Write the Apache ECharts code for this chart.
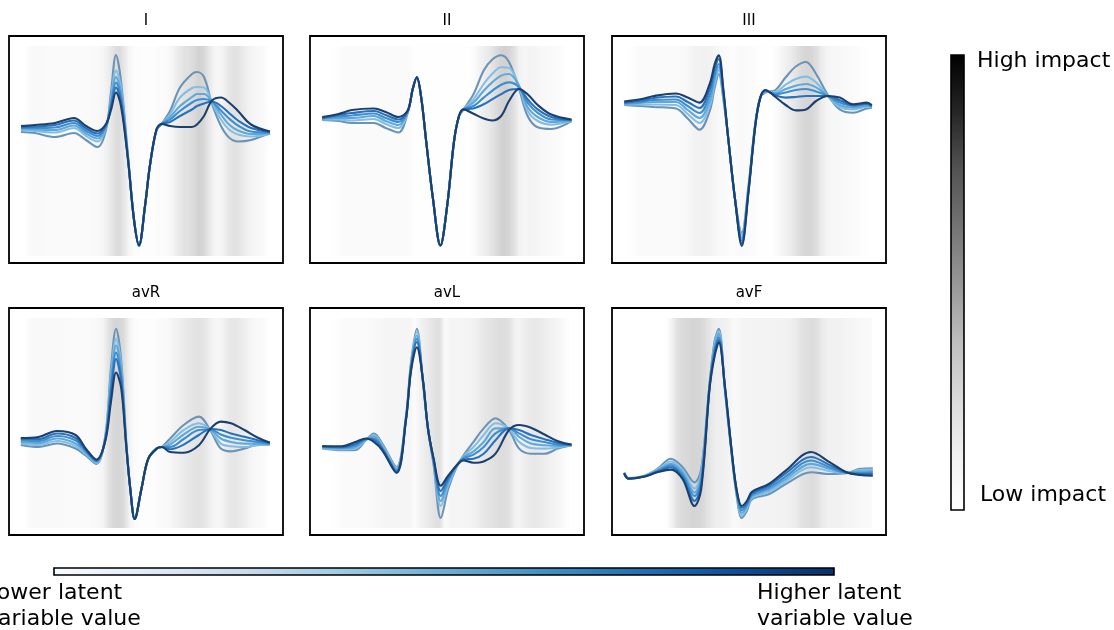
<!DOCTYPE html>
<html>
<head>
<meta charset="utf-8">
<script src="https://cdn.jsdelivr.net/npm/echarts@6/dist/echarts.min.js"></script>
<style>
  html, body { margin: 0; padding: 0; background: #fff; }
  #chart { width: 1114px; height: 630px; }
</style>
</head>
<body>
<div id="chart"></div>
<script>
// Dérivations et couleurs des six courbes (valeur latente croissante)
const leads = ['I', 'II', 'III', 'avR', 'avL', 'avF'];
const lineColors = ['#6a93b6', '#86bee3', '#5fa8da', '#3e8fd0', '#2872bd', '#1c3f6e'];

// Temps (échantillons) et amplitudes lues sur chaque dérivation
const timeI = [12, 26, 46, 65, 77, 88.5, 97, 102, 107, 112, 119, 125, 130, 136, 141, 147.5, 152.5, 161, 171, 183, 188, 195, 203, 212, 220, 229, 242, 261];
const ampI = [
    [96, 97, 101, 97, 104, 111, 94, 56, 19, 45, 120, 183, 210, 170, 129, 94, 88, 75, 51.5, 38, 36, 41, 68, 90, 101.5, 105.5, 104, 97],
    [94, 95, 96.5, 92, 100, 105.5, 92, 62, 34.5, 52, 121, 183, 210, 170, 129, 94, 88, 78.5, 61.5, 52, 51, 51.5, 66.5, 83.5, 93.5, 98.5, 100.5, 98],
    [93, 93.5, 94, 89.5, 97.5, 102.5, 91, 65, 41, 57, 122, 183.5, 210, 170, 129, 94, 88, 81, 70, 61, 58, 58, 65.5, 78.5, 88.5, 94.5, 98, 97.5],
    [92, 92, 91.5, 87, 95, 100, 90, 68, 46.5, 61, 122.5, 183.5, 209.5, 170, 129, 93.5, 88, 83.5, 75, 66.5, 64, 63, 65.5, 74.5, 82.5, 89.5, 95.5, 96.5],
    [91, 90.5, 89, 84.5, 92.5, 97.5, 89, 71, 51.5, 65.5, 123, 184, 209.5, 170, 129, 93.5, 88, 86, 80, 73.5, 70, 67.5, 65.5, 70, 77, 84.5, 92, 96],
    [90, 89, 87, 82, 90, 95, 88, 74, 56.5, 70, 124, 184, 209, 170, 129, 93.5, 88, 90, 91, 91, 88.5, 80, 64.5, 61.5, 66.5, 75, 88.5, 95.5]
];

const timeII = [12.2, 28.4, 41.9, 63.9, 75.7, 88.5, 97.7, 102.7, 106.8, 111.2, 116.2, 123, 130.4, 137.2, 144, 149, 153.4, 163.5, 173.7, 182.1, 191.2, 199, 209.1, 217.6, 227.7, 241.2, 261.5];
const ampII = [
    [84, 85, 87, 87, 92, 96.5, 77, 53.5, 41.5, 61.5, 105.5, 163, 209.5, 169.5, 105.5, 80, 73.5, 58.2, 34.5, 23.7, 19.3, 26, 53, 80, 91.3, 93, 85.2],
    [83.5, 83.5, 84.5, 83, 88, 92, 76.5, 53.5, 41.5, 61.5, 105.5, 163, 209.5, 169.5, 105.5, 80, 73.5, 63.3, 48, 38, 31.2, 31.8, 50.8, 75, 85, 88.6, 85],
    [83, 82, 82, 80, 85, 89, 76, 53, 41.3, 61.5, 105.5, 163, 209.5, 169.5, 105.5, 80, 73.5, 66.6, 54.8, 46.4, 39.6, 38, 49.7, 71, 81, 86, 84.5],
    [82.5, 80.5, 79.5, 77.5, 82, 86, 75.5, 53, 41.3, 61.5, 105.5, 163, 209.5, 169.5, 105.5, 80, 73.4, 70, 61.6, 54.8, 48.7, 46.4, 51.4, 66.6, 76.8, 83.5, 84.2],
    [82, 79, 77, 75, 79, 83.5, 75, 53, 41.3, 61.6, 105.5, 163, 209.5, 169.7, 105.5, 80, 73.4, 72.4, 68.3, 63.3, 58.2, 54, 53, 63.3, 73.4, 81, 84],
    [81, 78, 74, 72.5, 76, 81, 74.5, 53, 41.3, 61.6, 105.5, 163, 209.5, 169.7, 105.5, 80, 73.4, 77.8, 82.5, 84.5, 80, 65, 53, 58.2, 69, 78.5, 83.5]
];

const timeIII = [12.2, 28.4, 41.9, 63.9, 75.7, 87.5, 97.7, 102.7, 106.8, 111.2, 116.2, 123, 129.8, 136.5, 143.3, 148.3, 153.4, 163.5, 173.7, 183.8, 194, 204.1, 215.9, 227.7, 241.2, 254.8, 259.8];
const ampIII = [
    [69, 70, 71, 72.5, 82.5, 93.7, 75, 51.5, 38, 62, 102, 163, 196.7, 150, 87, 61.6, 56.5, 54, 41.3, 30.5, 26, 38, 59, 73.4, 76.8, 72.4, 72],
    [68.5, 68.5, 68.5, 69, 78, 87, 70, 47, 34, 60, 102, 163, 199, 151, 87.5, 61.6, 56, 55.8, 48.7, 43, 40.6, 46.4, 60, 71, 73.4, 71, 71.5],
    [68, 67, 66, 66, 74, 82, 65, 42.5, 31, 58, 102, 163, 202, 152.5, 88, 61.6, 55.5, 57.2, 53, 49.7, 48, 51.4, 60, 69, 71.7, 69.7, 71],
    [67, 66, 64, 63.5, 70, 77, 59, 38, 28, 56, 102, 163, 205, 154, 88.6, 61.6, 55, 58.2, 56.5, 54, 53, 55.5, 60, 66.6, 70, 68.3, 70.5],
    [66.5, 64.5, 62, 60.5, 66, 72, 53, 33, 23, 54, 102, 163, 207.5, 155, 89, 61.6, 54.5, 59.5, 61.6, 61, 60, 60, 60, 64.3, 69, 67.6, 70],
    [65.5, 63.3, 60, 57.5, 61.5, 66.6, 48, 28, 19.3, 52, 102, 163, 210, 156, 90, 61.6, 54, 61, 69, 74.4, 73.4, 65, 60, 61.6, 68.3, 66.6, 69]
];

const timeAvR = [11.8, 29.4, 48, 66.6, 76.7, 87.5, 96.3, 102, 107.1, 112.2, 117.2, 121.3, 125.7, 132.4, 139.2, 147.6, 152.7, 161.2, 174.7, 189.9, 201.7, 211.8, 222, 235.5, 249, 260.8];
const ampAvR = [
    [137, 139, 135.5, 140.5, 147.5, 156, 128, 59.5, 20.7, 52.8, 133, 181, 211, 181, 150.8, 140.6, 139, 130.5, 117, 108.6, 123, 140.6, 143.4, 140.6, 136.6, 136.6],
    [135.5, 137, 133, 138, 146, 155, 129, 67, 31, 58, 134, 181, 211, 181, 150.8, 140.6, 139, 134, 122, 115.3, 122, 135.6, 138.3, 139, 137.3, 136.3],
    [134, 135, 130.5, 135.5, 144.5, 154, 130, 73, 37.5, 63, 135, 181, 211, 181, 150.8, 140.6, 139, 136.5, 126.5, 118.7, 121.5, 130.5, 134, 135.6, 135.6, 136],
    [132.5, 133, 128, 132.5, 143, 153, 131, 79, 44.5, 68, 136, 181, 211, 181, 150.8, 140.6, 139, 139, 131, 122, 121.5, 126.5, 129.8, 132.2, 133.9, 135.6],
    [131, 131, 125.5, 130, 142, 152.5, 132, 85, 51, 73, 137, 181, 211, 181, 150.8, 140.6, 139, 141.3, 136.6, 127, 121, 122, 125.4, 128.8, 132.2, 135],
    [130, 129, 123, 127, 140.5, 151.5, 133, 93.5, 64.5, 80, 138, 181, 211, 181, 150.8, 140.6, 139, 144, 144.7, 137.3, 120.4, 113.6, 115.3, 122, 129.8, 134.6]
];

const timeAvL = [12.2, 31.8, 45.3, 56.1, 63.9, 72.3, 86.5, 96, 101, 106.8, 112.9, 117.9, 123.7, 130.8, 138.2, 146.6, 153.4, 163.5, 173.7, 185.5, 199, 209.1, 221, 234.5, 248, 261.5];
const ampAvL = [
    [140.5, 142.3, 142, 132, 125.5, 135.5, 159, 108, 54.5, 20.7, 74, 120, 157.5, 210, 181, 159, 147.5, 133.9, 120.4, 110.2, 122, 140.6, 145.7, 145.7, 140.6, 137.5],
    [140, 141.5, 140.5, 131.8, 127, 137, 160, 109, 56, 24, 73.5, 120, 156, 198, 177, 158.5, 148.5, 139, 127, 115.3, 121, 133.9, 140, 140.6, 139.3, 137.3],
    [139.5, 140.5, 139, 131.5, 128.5, 138.5, 161.5, 110, 58, 27.5, 73, 120, 154.5, 193, 174.5, 158, 149.5, 143.4, 134, 120.4, 120.4, 128.8, 135.6, 137.3, 138, 137.2],
    [139, 139.8, 137.5, 131.2, 130.5, 140, 162.5, 110.5, 59.5, 30.9, 72.5, 120, 153, 188, 172, 157.5, 150.5, 146.7, 139, 125.4, 120.4, 125.4, 131.2, 134, 136.6, 137],
    [138.5, 139, 136, 130.8, 132, 141, 164, 111, 61, 34, 72, 120, 152, 183, 170, 157.5, 151.5, 150.8, 145.7, 132.2, 120.4, 122, 127, 131.2, 134.9, 136.8],
    [138, 138.3, 134, 130.5, 134, 142.3, 165, 112, 63, 39.3, 71.5, 120, 150.8, 177.8, 167.7, 157.5, 152.5, 154.8, 153.5, 145.7, 122, 117, 119.7, 126.5, 133.2, 136.5]
];

const timeAvF = [12.2, 16.6, 31.8, 45.3, 58.8, 70.6, 82.5, 89.2, 97.7, 102.7, 106.8, 112.9, 119.6, 124.7, 129.8, 134.8, 139.9, 156.8, 173.7, 199, 217.6, 234.5, 248, 260.8];
const ampAvF = [
    [164.5, 170, 168, 161, 150.8, 159.2, 174.4, 161, 74, 32.5, 20.7, 82, 146, 188, 210, 203, 191.3, 186.3, 176, 164.3, 166, 165.3, 160.9, 160.2],
    [164.8, 170.2, 168.2, 161.8, 153.5, 162, 180.5, 165, 75, 35.5, 23, 81, 145, 186.5, 207.5, 201, 190, 183.9, 173.4, 159.2, 163.3, 165, 162, 161.5],
    [165, 170.4, 168.4, 162.5, 155.9, 164.5, 184.6, 169, 76, 38.5, 25.8, 80, 144, 185, 205, 199, 188.5, 181.9, 171, 155.9, 160.9, 164.8, 163.5, 163],
    [165.2, 170.5, 168.5, 163.2, 157.5, 167, 188, 173, 77, 41.5, 29.2, 79.5, 143.5, 184, 202.5, 197, 187, 179.8, 168.4, 152.5, 159.2, 164.6, 165, 164.5],
    [165.4, 170.6, 168.6, 163.8, 159.2, 169, 193, 177, 78, 44.5, 32, 79, 143, 183, 200, 195, 185.5, 177.8, 165.3, 149, 156.9, 164.4, 166, 166],
    [165.5, 170.8, 168.8, 164.3, 161.6, 171, 198, 181, 79, 47.7, 34.2, 78, 142, 182, 198, 193, 183.9, 176, 162.6, 144, 154.2, 164.3, 167, 167.7]
];

// Impact (0 = faible, 1 = fort) échantillonné tous les 5 pas de temps, à partir de t = 14.5
const impactI = [0, 0.04, 0.05, 0.05, 0.05, 0.04, 0.04, 0.04, 0.04, 0.04, 0.04, 0.04, 0.04, 0.04, 0.05, 0.06, 0.08, 0.14, 0.2, 0.24, 0.18, 0.08, 0.03, 0.02, 0.02, 0.02, 0.02, 0.03, 0.03, 0.05, 0.1, 0.16, 0.2, 0.21, 0.24, 0.28, 0.26, 0.18, 0.09, 0.07, 0.12, 0.18, 0.2, 0.19, 0.15, 0.11, 0.08, 0.06, 0.05, 0];
const impactII = [0, 0, 0.01, 0.03, 0.04, 0.04, 0.04, 0.04, 0.04, 0.04, 0.04, 0.04, 0.04, 0.04, 0.04, 0.04, 0.04, 0.03, 0.01, 0.005, 0.005, 0.005, 0.005, 0.005, 0.005, 0.005, 0.005, 0.005, 0.005, 0.01, 0.04, 0.1, 0.14, 0.17, 0.22, 0.27, 0.29, 0.26, 0.2, 0.1, 0.08, 0.1, 0.09, 0.07, 0.06, 0.05, 0.04, 0.03, 0.01, 0];
const impactIII = [0, 0.01, 0.03, 0.04, 0.04, 0.04, 0.04, 0.04, 0.04, 0.04, 0.04, 0.05, 0.06, 0.09, 0.11, 0.12, 0.12, 0.1, 0.07, 0.05, 0.04, 0.02, 0.04, 0.05, 0.04, 0.03, 0.02, 0.01, 0.01, 0.01, 0.03, 0.08, 0.13, 0.16, 0.2, 0.25, 0.27, 0.26, 0.22, 0.14, 0.09, 0.07, 0.07, 0.06, 0.05, 0.04, 0.03, 0.02, 0.01, 0];
const impactAvR = [0, 0.04, 0.05, 0.05, 0.05, 0.05, 0.05, 0.05, 0.05, 0.05, 0.04, 0.04, 0.04, 0.04, 0.05, 0.07, 0.1, 0.2, 0.26, 0.27, 0.24, 0.12, 0.04, 0.02, 0.02, 0.02, 0.02, 0.03, 0.04, 0.06, 0.1, 0.13, 0.15, 0.17, 0.19, 0.2, 0.19, 0.14, 0.08, 0.07, 0.12, 0.17, 0.18, 0.17, 0.14, 0.1, 0.07, 0.05, 0.04, 0];
const impactAvL = [0, 0, 0.01, 0.03, 0.04, 0.04, 0.04, 0.04, 0.04, 0.05, 0.06, 0.07, 0.08, 0.08, 0.08, 0.08, 0.08, 0.08, 0.03, 0.1, 0.14, 0.17, 0.2, 0.22, 0.03, 0.08, 0.08, 0.08, 0.09, 0.1, 0.12, 0.15, 0.18, 0.19, 0.21, 0.23, 0.23, 0.2, 0.12, 0.1, 0.14, 0.16, 0.17, 0.16, 0.14, 0.12, 0.1, 0.07, 0.03, 0];
const impactAvF = [0, 0, 0, 0, 0, 0, 0, 0, 0.01, 0.1, 0.2, 0.24, 0.25, 0.27, 0.27, 0.26, 0.22, 0.16, 0.13, 0.13, 0.12, 0.07, 0.05, 0.09, 0.1, 0.1, 0.1, 0.1, 0.1, 0.1, 0.11, 0.11, 0.12, 0.13, 0.16, 0.2, 0.22, 0.24, 0.22, 0.16, 0.13, 0.12, 0.12, 0.11, 0.09, 0.08, 0.07, 0.06, 0.05, 0.04];

const times = [timeI, timeII, timeIII, timeAvR, timeAvL, timeAvF];
const amps = [ampI, ampII, ampIII, ampAvR, ampAvL, ampAvF];
const impacts = [impactI, impactII, impactIII, impactAvR, impactAvL, impactAvF];

// --- Mise en page ---
const panelLeft = [9, 310, 612, 9, 310, 612];
const panelTop = [36, 36, 36, 308, 308, 308];
const panelW = 274, panelH = 227;
const heatTop = 10, heatBottom = 220;

// Colormap "Greys" (matplotlib)
const greyStops = [[0, 255], [0.125, 240], [0.25, 217], [0.375, 189], [0.5, 150], [0.625, 115], [0.75, 82], [0.875, 37], [1, 0]];
function grey(v) {
    for (let k = 1; k < greyStops.length; k++) {
        if (v <= greyStops[k][0]) {
            const a = greyStops[k - 1], b = greyStops[k];
            const g = Math.round(a[1] + (b[1] - a[1]) * (v - a[0]) / (b[0] - a[0]));
            return 'rgb(' + g + ',' + g + ',' + g + ')';
        }
    }
    return 'rgb(0,0,0)';
}
const blues = ['#f7fbff', '#deebf7', '#c6dbef', '#9ecae1', '#6baed6', '#4292c6', '#2171b5', '#08519c', '#08306b'];

function impactTime(j) {
    return 14.5 + 5 * j;
}

function heatItem(p) {
    const imp = impacts[p];
    return function (params, api) {
        const j = params.dataIndex;
        if (j >= imp.length - 1) return null;
        const a = api.coord([impactTime(j), heatTop]);
        const b = api.coord([impactTime(j + 1), heatBottom]);
        return {
            type: 'rect',
            shape: { x: a[0], y: a[1], width: b[0] - a[0] + 0.6, height: b[1] - a[1] },
            style: {
                fill: new echarts.graphic.LinearGradient(0, 0, 1, 0, [
                    { offset: 0, color: grey(imp[j]) },
                    { offset: 1, color: grey(imp[j + 1]) }
                ])
            }
        };
    };
}

const grids = [], xAxes = [], yAxes = [], series = [], graphics = [];

leads.forEach((lead, p) => {
    grids.push({
        left: panelLeft[p], top: panelTop[p], width: panelW, height: panelH,
        show: true, borderColor: '#000', borderWidth: 1.8, backgroundColor: 'transparent'
    });
    xAxes.push({ type: 'value', gridIndex: p, min: 0, max: panelW, show: false });
    yAxes.push({ type: 'value', gridIndex: p, min: 0, max: panelH, inverse: true, show: false });

    series.push({
        type: 'custom',
        xAxisIndex: p, yAxisIndex: p,
        silent: true, z: 1,
        renderItem: heatItem(p),
        data: impacts[p].map((v, j) => [impactTime(j), v])
    });

    amps[p].forEach((ys, k) => {
        series.push({
            type: 'line',
            xAxisIndex: p, yAxisIndex: p,
            data: times[p].map((t, i) => [t, ys[i]]),
            showSymbol: false, smooth: 0.35, silent: true, z: 3 + k,
            lineStyle: { width: 2.1, color: lineColors[k] },
            itemStyle: { color: lineColors[k] }
        });
    });

    graphics.push({
        type: 'text', x: panelLeft[p] + panelW / 2, y: panelTop[p] - 15,
        style: {
            text: lead, font: '15px "DejaVu Sans"', fill: '#000',
            align: 'center', verticalAlign: 'middle', textAlign: 'center', textVerticalAlign: 'middle'
        }
    });
});

// Barre verticale : impact
graphics.push({
    type: 'rect', shape: { x: 951, y: 55, width: 13, height: 455 },
    style: {
        fill: {
            type: 'linear', x: 0, y: 0, x2: 0, y2: 1,
            colorStops: greyStops.map(s => ({ offset: 1 - s[0], color: grey(s[0]) })).reverse()
        },
        stroke: '#000', lineWidth: 1.6
    }
});
// Barre horizontale : variable latente
graphics.push({
    type: 'rect', shape: { x: 54, y: 568, width: 780, height: 7 },
    style: {
        fill: {
            type: 'linear', x: 0, y: 0, x2: 1, y2: 0,
            colorStops: blues.map((c, i) => ({ offset: i / (blues.length - 1), color: c }))
        },
        stroke: '#000', lineWidth: 1.6
    }
});

const labels = [
    ['High impact', 977, 61],
    ['Low impact', 980, 495],
    ['Lower latent', -15, 593],
    ['variable value', -15, 619],
    ['Higher latent', 757, 593],
    ['variable value', 757, 619]
];
labels.forEach(l => {
    graphics.push({
        type: 'text', x: l[1], y: l[2],
        style: {
            text: l[0], font: '22px "DejaVu Sans"', fill: '#000',
            align: 'left', verticalAlign: 'middle', textAlign: 'left', textVerticalAlign: 'middle'
        }
    });
});

const chart = echarts.init(document.getElementById('chart'), null, { renderer: 'canvas' });
chart.setOption({
    animation: false,
    backgroundColor: '#fff',
    grid: grids,
    xAxis: xAxes,
    yAxis: yAxes,
    series: series,
    graphic: graphics
});
</script>
</body>
</html>
